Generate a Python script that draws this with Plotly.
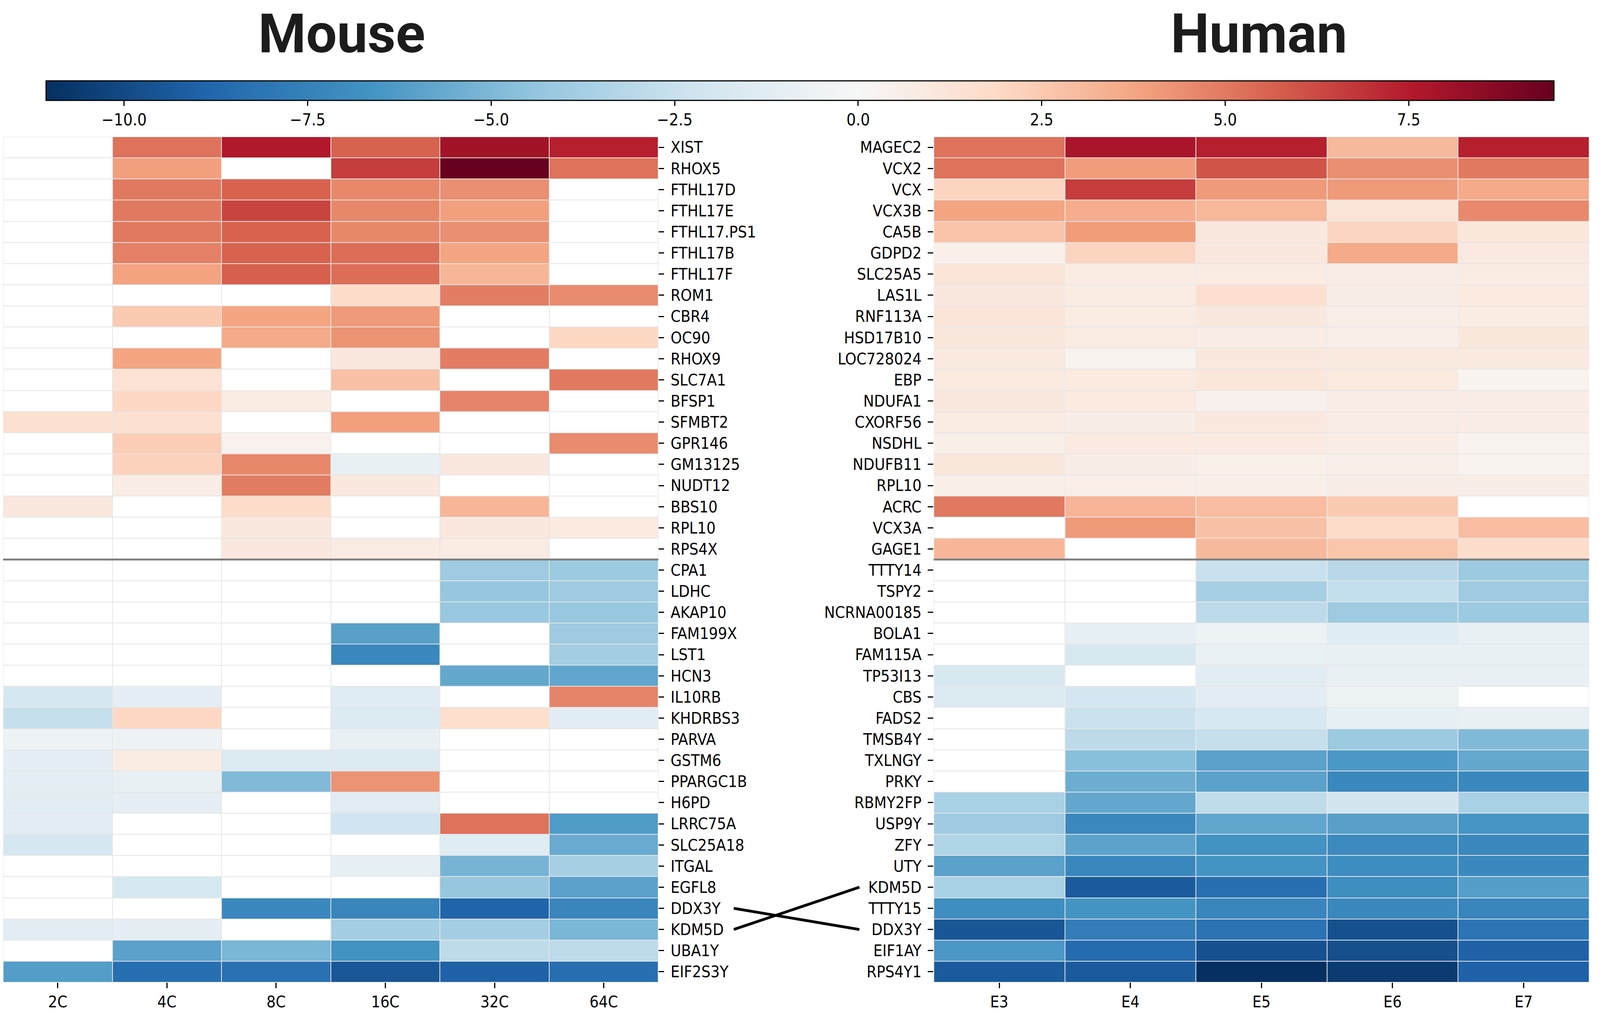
"""Mouse vs human sex-linked genes: two heatmaps sharing one diverging colour bar."""

import plotly.graph_objects as go

nan = None

# ---- mouse (log2 fold change, missing = not significant) ----
mouse_stages = ["2C", "4C", "8C", "16C", "32C", "64C"]
mouse_up = ["XIST", "RHOX5", "FTHL17D", "FTHL17E", "FTHL17.PS1", "FTHL17B", "FTHL17F",
            "ROM1", "CBR4", "OC90", "RHOX9", "SLC7A1", "BFSP1", "SFMBT2", "GPR146",
            "GM13125", "NUDT12", "BBS10", "RPL10", "RPS4X"]
mouse_down = ["CPA1", "LDHC", "AKAP10", "FAM199X", "LST1", "HCN3", "IL10RB", "KHDRBS3",
              "PARVA", "GSTM6", "PPARGC1B", "H6PD", "LRRC75A", "SLC25A18", "ITGAL",
              "EGFL8", "DDX3Y", "KDM5D", "UBA1Y", "EIF2S3Y"]
mouse_genes = mouse_up + mouse_down

mouse_vals = [
    [nan, 5.2, 7.6, 5.6, 8.0, 7.4],
    [nan, 3.95, nan, 6.6, 9.48, 5.2],
    [nan, 5.0, 5.6, 4.6, 4.4, nan],
    [nan, 5.0, 6.4, 4.6, 3.95, nan],
    [nan, 5.0, 5.6, 4.6, 4.4, nan],
    [nan, 4.8, 5.6, 5.3, 3.8, nan],
    [nan, 3.85, 5.7, 5.3, 3.2, nan],
    [nan, nan, nan, 1.8, 4.9, 4.5],
    [nan, 2.5, 3.8, 4.1, nan, nan],
    [nan, nan, 3.6, 4.3, nan, 2.0],
    [nan, 3.8, nan, 1.0, 4.9, nan],
    [nan, 1.4, nan, 2.8, nan, 5.0],
    [nan, 2.0, 0.8, nan, 4.7, nan],
    [1.5, 1.5, nan, 3.95, nan, nan],
    [nan, 2.4, 0.4, nan, nan, 4.5],
    [nan, 2.2, 4.6, -0.8, 1.0, nan],
    [nan, 0.7, 4.9, 1.0, nan, nan],
    [1.0, nan, 1.8, nan, 3.2, nan],
    [nan, nan, 1.0, nan, 1.0, 0.9],
    [nan, nan, 1.0, 0.8, 0.8, nan],
    [nan, nan, nan, nan, -4.0, -4.1],
    [nan, nan, nan, nan, -4.3, -4.0],
    [nan, nan, nan, nan, -4.2, -4.2],
    [nan, nan, nan, -6.05, nan, -4.0],
    [nan, nan, nan, -7.2, nan, -3.8],
    [nan, nan, nan, nan, -5.7, -5.8],
    [-2.0, -1.1, nan, -1.4, nan, 4.7],
    [-2.6, 2.0, nan, -1.6, 1.6, -1.3],
    [-0.6, -0.6, nan, -0.9, nan, nan],
    [-1.1, 0.8, -1.6, -1.6, nan, nan],
    [-1.1, -0.9, -4.9, 4.3, nan, nan],
    [-1.2, -1.1, nan, -1.3, nan, nan],
    [-1.3, nan, nan, -2.2, 5.2, -6.3],
    [-2.0, nan, nan, nan, -1.4, -5.6],
    [nan, nan, nan, -1.0, -5.2, -3.7],
    [nan, -1.9, nan, nan, -4.3, -6.0],
    [nan, nan, -7.2, -7.3, -8.9, -7.3],
    [-1.3, -1.1, nan, -3.8, -3.8, -5.1],
    [nan, -6.0, -5.1, -6.7, -2.9, -2.9],
    [-6.2, -8.4, -8.3, -9.47, -9.0, -8.4],
]

# ---- human ----
human_stages = ["E3", "E4", "E5", "E6", "E7"]
human_up = ["MAGEC2", "VCX2", "VCX", "VCX3B", "CA5B", "GDPD2", "SLC25A5", "LAS1L",
            "RNF113A", "HSD17B10", "LOC728024", "EBP", "NDUFA1", "CXORF56", "NSDHL",
            "NDUFB11", "RPL10", "ACRC", "VCX3A", "GAGE1"]
human_down = ["TTTY14", "TSPY2", "NCRNA00185", "BOLA1", "FAM115A", "TP53I13", "CBS",
              "FADS2", "TMSB4Y", "TXLNGY", "PRKY", "RBMY2FP", "USP9Y", "ZFY", "UTY",
              "KDM5D", "TTTY15", "DDX3Y", "EIF1AY", "RPS4Y1"]
human_genes = human_up + human_down

human_vals = [
    [5.2, 7.8, 7.4, 3.1, 7.4],
    [5.2, 4.0, 6.0, 4.4, 5.0],
    [2.1, 6.6, 4.1, 4.1, 3.6],
    [3.8, 3.5, 3.15, 1.2, 4.55],
    [2.7, 4.0, 1.0, 2.1, 1.15],
    [0.5, 2.1, 1.0, 3.6, 0.95],
    [1.2, 0.8, 0.8, 0.75, 0.8],
    [1.0, 0.8, 1.6, 0.65, 0.9],
    [1.2, 0.8, 1.0, 0.55, 0.8],
    [1.1, 0.8, 0.7, 0.55, 1.1],
    [0.95, 0.35, 1.0, 0.95, 0.95],
    [0.9, 0.9, 1.15, 0.9, 0.3],
    [1.0, 0.9, 0.45, 0.7, 0.7],
    [0.8, 0.65, 1.0, 0.7, 0.7],
    [0.55, 0.85, 0.85, 0.7, 0.35],
    [1.1, 0.65, 0.5, 0.6, 0.35],
    [0.55, 0.6, 0.55, 0.65, 0.65],
    [5.0, 3.25, 2.95, 2.5, nan],
    [nan, 4.1, 2.8, 1.8, 2.95],
    [3.2, nan, 3.1, 2.65, 1.75],
    [nan, nan, -2.5, -3.1, -4.1],
    [nan, nan, -3.7, -2.7, -4.0],
    [nan, nan, -2.95, -4.0, -4.1],
    [nan, -1.0, -0.6, -1.4, -0.8],
    [nan, -1.8, -0.75, -0.8, -0.8],
    [-1.8, nan, -1.2, -0.8, -0.8],
    [-1.6, -2.05, -1.2, -0.6, nan],
    [nan, -2.45, -1.9, -1.0, -0.8],
    [nan, -2.95, -2.65, -4.1, -4.9],
    [nan, -4.7, -6.0, -6.4, -5.7],
    [nan, -5.5, -6.0, -7.2, -7.2],
    [-3.6, -5.75, -2.85, -2.1, -3.6],
    [-4.0, -7.2, -5.8, -6.05, -6.55],
    [-3.4, -5.95, -6.7, -7.1, -7.2],
    [-6.0, -7.25, -6.6, -6.95, -7.2],
    [-3.6, -9.3, -8.4, -6.9, -6.15],
    [-6.9, -6.6, -7.3, -7.2, -7.3],
    [-9.5, -7.7, -8.2, -9.7, -8.1],
    [-6.4, -8.6, -9.7, -9.8, -9.0],
    [-9.3, -9.3, -11.06, -10.6, -9.0],
]

cbar_ticks = [-10.0, -7.5, -5.0, -2.5, 0.0, 2.5, 5.0, 7.5]
cbar_ticktext = ["\u221210.0", "\u22127.5", "\u22125.0", "\u22122.5", "0.0", "2.5", "5.0", "7.5"]
linked_genes = ["DDX3Y", "KDM5D"]

# ---- colour scale: RdBu_r with white pinned at 0 (two-slope) ----
BLUES = ["#053061", "#2166ac", "#4393c3", "#92c5de", "#d1e5f0", "#f7f7f7"]
REDS = ["#f7f7f7", "#fddbc7", "#f4a582", "#d6604d", "#b2182b", "#67001f"]

all_vals = [v for row in mouse_vals + human_vals for v in row if v is not None]
zmin, zmax = min(all_vals), max(all_vals)
mid = -zmin / (zmax - zmin)
colorscale = [[mid * i / 5, c] for i, c in enumerate(BLUES)]
colorscale += [[mid + (1 - mid) * i / 5, c] for i, c in enumerate(REDS)][1:]
colorscale[-1][0] = 1.0

# browser viewport is 4096x2614 with an 8px body margin; layout measured on 4457x2614
VIEW_W, VIEW_H, OFF = 4096, 2614, 8
SX = VIEW_W / 4457
W, H = VIEW_W - 2 * OFF, VIEW_H - 2 * OFF


def px(v):
    return (v * SX - OFF) / W


def py(v):
    return 1 - (v - OFF) / H


FONT = "DejaVu Sans Condensed, DejaVu Sans"
TICKFONT = dict(family=FONT, size=41, color="black")

left_dom = [0, px(1834)]
right_dom = [px(2601), px(4427)]
y_dom = [py(2515), py(350)]

n_rows = len(mouse_genes)
fig = go.Figure()

for xa, ya, stages, vals in [("x", "y", mouse_stages, mouse_vals),
                             ("x2", "y2", human_stages, human_vals)]:
    cols = list(range(len(stages)))
    rows = list(range(n_rows))
    # white base so that gaps read as faint grid lines and missing cells stay white
    fig.add_trace(go.Heatmap(
        z=[[0] * len(stages) for _ in rows], x=cols, y=rows, xaxis=xa, yaxis=ya,
        colorscale=[[0, "white"], [1, "white"]], showscale=False,
        xgap=2, ygap=2, hoverinfo="skip",
    ))
    fig.add_trace(go.Heatmap(
        z=vals, x=cols, y=rows, xaxis=xa, yaxis=ya,
        colorscale=colorscale, zmin=zmin, zmax=zmax, xgap=2, ygap=2,
        showscale=(xa == "x"),
        colorbar=dict(
            orientation="h", x=px((129 + 4329) / 2), xanchor="center", xref="container",
            y=py(207), yanchor="top", yref="container",
            len=(4329 - 129) * SX, lenmode="pixels", thickness=50, thicknessmode="pixels",
            xpad=0, ypad=0, outlinecolor="black", outlinewidth=3,
            tickvals=cbar_ticks, ticktext=cbar_ticktext,
            ticks="outside", ticklen=13, tickwidth=2.5, tickcolor="black",
            tickfont=dict(family=FONT, size=42, color="black"),
        ),
        hovertemplate="%{z}<extra></extra>",
    ))

axis_common = dict(showgrid=False, zeroline=False, showline=False, ticks="outside",
                   ticklen=14, tickwidth=2.5, tickcolor="black", tickfont=TICKFONT,
                   automargin=False)

fig.update_layout(
    width=W, height=H, margin=dict(l=0, r=0, t=0, b=0, autoexpand=False),
    paper_bgcolor="white", plot_bgcolor="#e6e6e6",
    xaxis=dict(domain=left_dom, range=[-0.5, len(mouse_stages) - 0.5],
               tickvals=list(range(len(mouse_stages))), ticktext=mouse_stages,
               anchor="y", **axis_common),
    yaxis=dict(domain=y_dom, range=[n_rows - 0.5, -0.5], side="right",
               tickvals=list(range(n_rows)), ticktext=mouse_genes,
               ticklabelstandoff=8, anchor="x", **axis_common),
    xaxis2=dict(domain=right_dom, range=[-0.5, len(human_stages) - 0.5],
                tickvals=list(range(len(human_stages))), ticktext=human_stages,
                anchor="y2", **axis_common),
    yaxis2=dict(domain=y_dom, range=[n_rows - 0.5, -0.5], side="left",
                tickvals=list(range(n_rows)), ticktext=human_genes,
                ticklabelstandoff=8, anchor="x2", **axis_common),
    font=dict(family=FONT, color="black"),
)

# up / down separator
split = len(mouse_up) - 0.5
for xr, yr in [("x domain", "y"), ("x2 domain", "y2")]:
    fig.add_shape(type="line", xref=xr, yref=yr, x0=0, x1=1, y0=split, y1=split,
                  line=dict(color="#808080", width=5))

# cross links between the two species for the swapped genes
for g in linked_genes:
    fig.add_shape(type="line", xref="paper", yref="y",
                  x0=px(2044), x1=px(2394),
                  y0=mouse_genes.index(g), y1=human_genes.index(g),
                  line=dict(color="black", width=7))

for text, xc in [("Mouse", 952), ("Human", 3507)]:
    fig.add_annotation(text="<b>%s</b>" % text, x=px(xc), y=py(2), xref="paper", yref="paper",
                       xanchor="center", yanchor="top", showarrow=False,
                       font=dict(family="Roboto", size=140, color="#1c1c1c"))

fig.write_html("out.html")
